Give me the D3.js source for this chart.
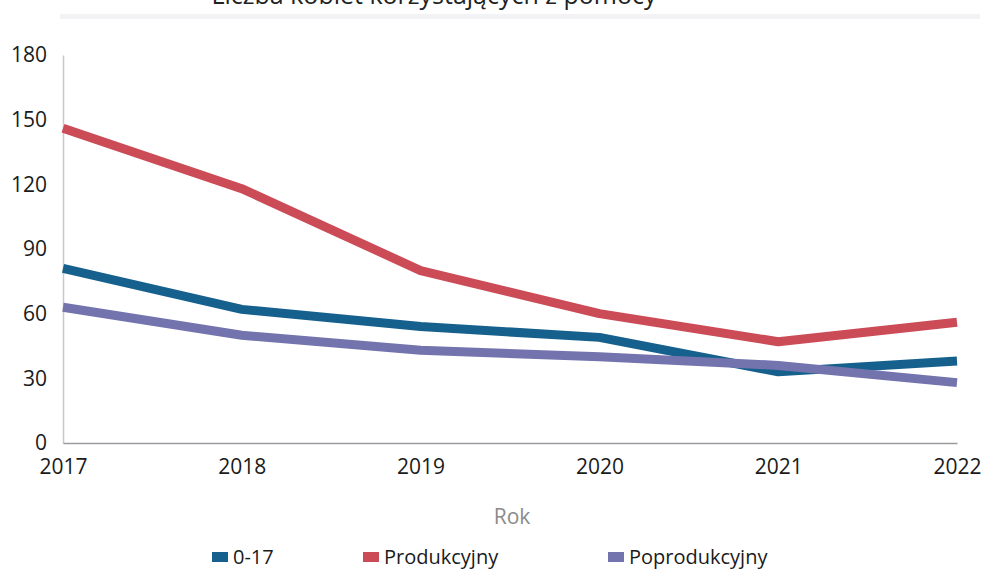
<!DOCTYPE html>
<html><head><meta charset="utf-8">
<script src="https://cdn.jsdelivr.net/npm/d3@7"></script>
<style>body{margin:0;background:#fff;}svg{display:block;font-family:"Open Sans","Noto Sans",sans-serif;}</style>
</head><body>
<svg id="c" width="983" height="573"></svg>
<script>
const years = [2017, 2018, 2019, 2020, 2021, 2022];
const s017 = [81, 62, 54, 49, 33, 38];
const sProd = [146, 118, 80, 60, 47, 56];
const sPoprod = [63, 50, 43, 40, 36, 28];
const yTicks = [0, 30, 60, 90, 120, 150, 180];
const seriesNames = ["0-17", "Produkcyjny", "Poprodukcyjny"];
const seriesColors = ["#15608c", "#cb4b57", "#7374ae"];
const title = "Liczba kobiet korzystających z pomocy";
const xTitle = "Rok";

const svg = d3.select("#c");
const x = d3.scaleLinear().domain([2017, 2022]).range([63, 957]);
const y = d3.scaleLinear().domain([0, 180]).range([443, 55]);

svg.append("rect").attr("x", 60).attr("y", 14).attr("width", 920).attr("height", 5).attr("fill", "#f3f3f5");
svg.append("text").attr("x", 434).attr("y", 4).attr("text-anchor", "middle")
  .attr("font-size", 25).attr("fill", "#222").text(title);

// axes
const yAxis = d3.axisLeft(y).tickValues(yTicks).tickSize(0).tickPadding(16);
const gy = svg.append("g").attr("transform", "translate(63,0)").call(yAxis);
gy.select(".domain").attr("stroke", "#c8c8d0").attr("stroke-width", 1.5);
gy.selectAll("text").attr("font-size", 21).attr("fill", "#1a1a1a").attr("font-family", "Open Sans");

const xAxis = d3.axisBottom(x).tickValues(years).tickFormat(d3.format("d")).tickSize(0).tickPadding(16);
const gx = svg.append("g").attr("transform", "translate(0,443)").call(xAxis);
gx.select(".domain").attr("stroke", "#9a9aa0").attr("stroke-width", 1.5);
gx.selectAll("text").attr("font-size", 21).attr("fill", "#1a1a1a").attr("font-family", "Open Sans");

const data = [s017, sProd, sPoprod];
const line = d3.line().x((d, i) => x(years[i])).y(d => y(d));
[1, 0, 2].forEach(k => {
  svg.append("path").attr("d", line(data[k])).attr("fill", "none")
    .attr("stroke", seriesColors[k]).attr("stroke-width", 9)
    .attr("stroke-linejoin", "round").attr("stroke-linecap", "butt");
});

svg.append("text").attr("x", 512).attr("y", 524).attr("text-anchor", "middle")
  .attr("font-size", 21).attr("fill", "#8a8a8a").text(xTitle);

const legX = [212, 363, 608];
seriesNames.forEach((n, i) => {
  const g = svg.append("g").attr("transform", `translate(${legX[i]},0)`);
  g.append("rect").attr("x", 0).attr("y", 552).attr("width", 16).attr("height", 10).attr("fill", seriesColors[i]);
  g.append("text").attr("x", 21).attr("y", 564).attr("font-size", 20).attr("fill", "#1a1a1a").text(n);
});
</script>
</body></html>
